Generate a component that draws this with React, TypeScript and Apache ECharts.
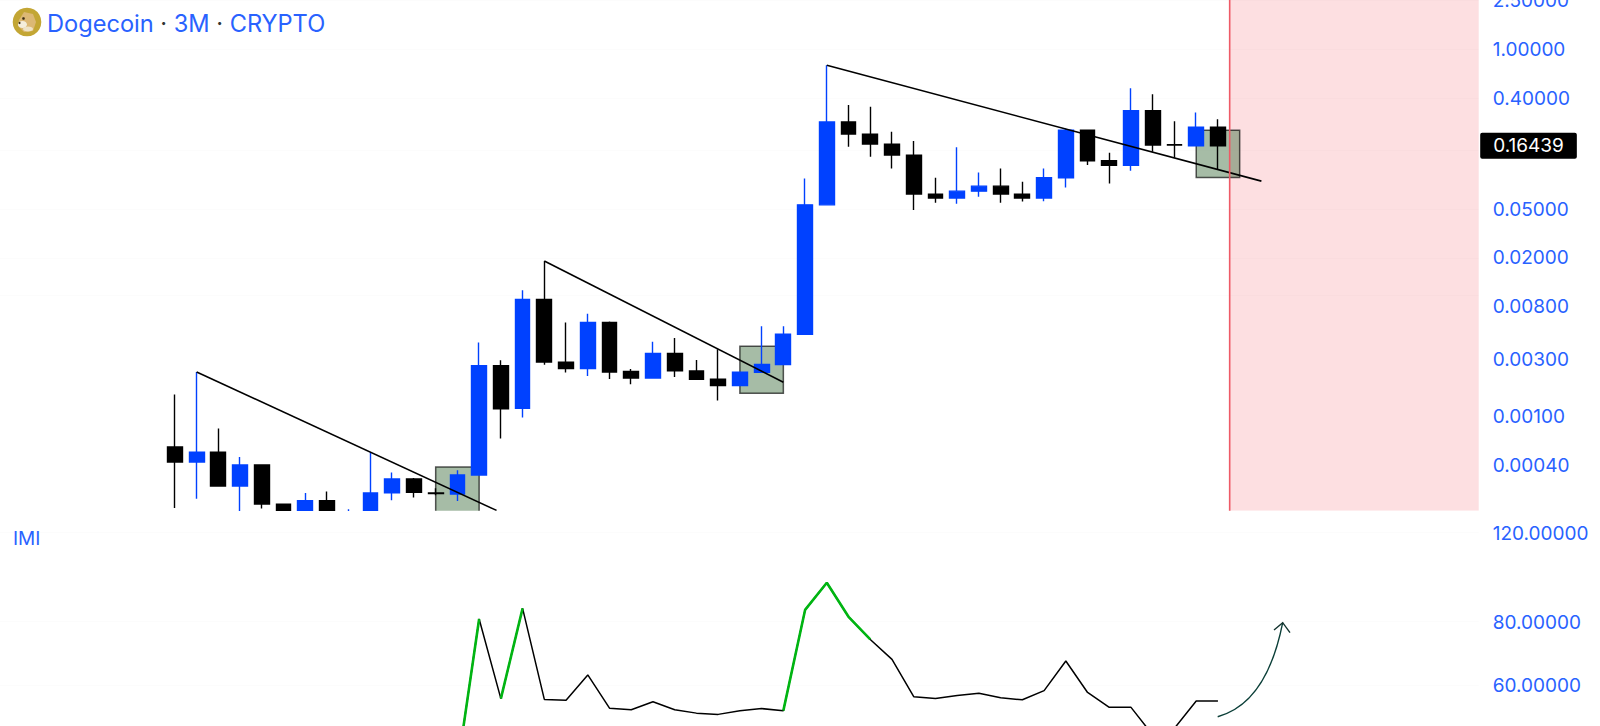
import React, { useEffect, useRef } from "react";
import * as echarts from "echarts";

// Candles: [index, open, close, low, high]
const candles: number[][] = [
  [0, 0.000576, 0.000434, 0.000183, 0.00154],
  [1, 0.000434, 0.000521, 0.000218, 0.00235],
  [2, 0.000521, 0.000277, 0.000277, 0.000814],
  [3, 0.000277, 0.000411, 0.00016, 0.000477],
  [4, 0.000411, 0.000197, 0.000181, 0.000416],
  [5, 0.000197, 0.000151, 0.00014, 0.000197],
  [6, 0.00015, 0.00021, 0.00014, 0.000243],
  [7, 0.00021, 0.00015, 0.00014, 0.00025],
  [8, 0.00012, 0.00016, 0.00011, 0.000179],
  [9, 0.00015, 0.000243, 0.00014, 0.000521],
  [10, 0.000243, 0.000316, 0.000212, 0.000356],
  [11, 0.000316, 0.000246, 0.000223, 0.000322],
  [12, 0.000243, 0.00024, 0.000232, 0.000265],
  [13, 0.000238, 0.00034, 0.000209, 0.000372],
  [14, 0.00034, 0.00264, 0.00034, 0.00409],
  [15, 0.00264, 0.00118, 0.000674, 0.00293],
  [16, 0.00119, 0.00917, 0.001, 0.0109],
  [17, 0.00917, 0.00283, 0.00269, 0.0189],
  [18, 0.00283, 0.00251, 0.00233, 0.00595],
  [19, 0.00251, 0.00595, 0.00218, 0.007],
  [20, 0.00595, 0.00235, 0.00206, 0.00607],
  [21, 0.00237, 0.0021, 0.00187, 0.00249],
  [22, 0.0021, 0.00333, 0.0021, 0.00414],
  [23, 0.00333, 0.0024, 0.00214, 0.00446],
  [24, 0.0024, 0.00205, 0.00205, 0.00295],
  [25, 0.00205, 0.00182, 0.00138, 0.00361],
  [26, 0.00182, 0.00234, 0.00182, 0.00234],
  [27, 0.00234, 0.00271, 0.00234, 0.00555],
  [28, 0.00271, 0.00478, 0.00271, 0.00555],
  [29, 0.00476, 0.0542, 0.0047, 0.089],
  [30, 0.0542, 0.2563, 0.0542, 0.7433],
  [31, 0.2563, 0.2045, 0.1611, 0.3526],
  [32, 0.2045, 0.1695, 0.1335, 0.3415],
  [33, 0.1695, 0.1379, 0.1074, 0.2136],
  [34, 0.1379, 0.0663, 0.0491, 0.1794],
  [35, 0.0663, 0.0615, 0.0563, 0.09],
  [36, 0.0615, 0.0701, 0.0552, 0.1594],
  [37, 0.0701, 0.077, 0.063, 0.0996],
  [38, 0.077, 0.0663, 0.0563, 0.1074],
  [39, 0.0663, 0.0615, 0.0578, 0.0835],
  [40, 0.0615, 0.09, 0.0581, 0.1074],
  [41, 0.09, 0.2205, 0.0752, 0.2276],
  [42, 0.2205, 0.1239, 0.1143, 0.222],
  [43, 0.1239, 0.1136, 0.081, 0.144],
  [44, 0.1136, 0.3168, 0.1027, 0.4826],
  [45, 0.3168, 0.1663, 0.1467, 0.4312],
  [46, 0.1675, 0.1663, 0.1311, 0.2597],
  [47, 0.1642, 0.2332, 0.1642, 0.3074],
  [48, 0.2332, 0.16439, 0.1054, 0.2696],
];

const trendLine1 = [[1, 0.00235], [14.8, 0.000175]];
const trendLine2 = [[17, 0.0189], [28, 0.00194]];
const trendLine3 = [[30, 0.7433], [50, 0.0846]];

// Boxes: [fromIndex, toIndex, topValue, bottomValue]
const signalBoxes = [
  [12, 14, 0.000395, 0.00012],
  [26, 28, 0.00382, 0.00158],
  [47, 49, 0.2193, 0.0907],
];

const forecastStart = 48.54;
const axisLeft = -8.05;
const axisRight = 60;
const mainMin = 0.000174;
const mainMax = 2.534;
const imiMin = 49.8;
const imiMax = 132.3;

const mainTicks = [2.5, 1, 0.4, 0.05, 0.02, 0.008, 0.003, 0.00102, 0.00041];
const mainTickLabels = ["2.50000", "1.00000", "0.40000", "0.05000", "0.02000", "0.00800", "0.00300", "0.00100", "0.00040"];
const mainGridValues = [2.5, 1, 0.4, 0.15, 0.05, 0.02, 0.008, 0.003, 0.00102, 0.00041];
const imiTicks = [120, 80, 60];
const imiTickLabels = ["120.00000", "80.00000", "60.00000"];
const lastPrice = 0.16439;

const imiIndex = [13, 14, 15, 16, 17, 18, 19, 20, 21, 22, 23, 24, 25, 26, 27, 28, 29, 30, 31, 32, 33, 34, 35, 36, 37, 38, 39, 40, 41, 42, 43, 44, 45, 46, 47, 48];
const imiValues = [41.1, 81.0, 56.4, 85.0, 56.2, 56.0, 62.8, 54.0, 53.6, 55.6, 53.6, 52.8, 52.5, 53.4, 53.9, 53.4, 84.4, 95.5, 81.8, 73.8, 67.4, 56.9, 56.4, 57.2, 57.8, 56.6, 56.1, 58.5, 66.9, 58.0, 54.2, 54.2, 47.8, 49.3, 55.8, 55.8];
const imiStrongRuns = [[13, 14], [15, 16], [28, 29, 30, 31, 32]];

const BLUE_TEXT = "#2962ff";
const BLUE_CANDLE = "#0041ff";
const FONT = "Inter, 'Noto Sans', sans-serif";

function regionItem(params: any, api: any) {
  const p0 = api.coord([api.value(0), api.value(2)]);
  const p1 = api.coord([api.value(1), api.value(3)]);
  return {
    type: "rect",
    shape: { x: p0[0], y: p0[1], width: p1[0] - p0[0], height: p1[1] - p0[1] },
    style: api.style(),
  };
}

function axisLabels(ticks: number[], labels: string[], xi: number, yi: number, dy: number) {
  return {
    type: "scatter",
    xAxisIndex: xi,
    yAxisIndex: yi,
    clip: false,
    silent: true,
    z: 6,
    symbolSize: 0,
    itemStyle: { opacity: 1 },
    data: ticks.map((v, i) => ({ value: [axisRight, v], name: labels[i] })),
    label: {
      show: true,
      position: "right",
      distance: 14,
      offset: [0, dy],
      opacity: 1,
      fontFamily: FONT,
      fontSize: 19,
      color: BLUE_TEXT,
      formatter: (p: any) => p.name,
    },
  };
}

function gridLines(values: number[], xi: number, yi: number, z: number) {
  return {
    type: "scatter",
    xAxisIndex: xi,
    yAxisIndex: yi,
    silent: true,
    clip: false,
    symbolSize: 0,
    z,
    data: [],
    markLine: {
      silent: true,
      symbol: "none",
      z,
      label: { show: false },
      lineStyle: { color: "rgba(0,0,0,0.012)", width: 1, type: "solid" },
      data: values.map((v) => ({ yAxis: v })),
    },
  };
}

function guideLine(data: number[][], color: string, width: number, xi = 0, yi = 0, z = 4) {
  return {
    type: "line",
    xAxisIndex: xi,
    yAxisIndex: yi,
    data,
    z,
    silent: true,
    symbol: "none",
    showSymbol: false,
    lineStyle: { color, width },
  };
}

export default function App() {
  const ref = useRef<HTMLDivElement>(null);
  useEffect(() => {
    document.body.style.margin = "0";
    document.body.style.background = "#fff";
    const chart = echarts.init(ref.current!, undefined, { renderer: "svg" });

    const greenMap = new Map<number, number>();
    imiIndex.forEach((x, i) => greenMap.set(x, imiValues[i]));
    const imiLine = imiIndex.map((x, i) => [x, imiValues[i]]);
    const greenSeries = imiStrongRuns.map((run) =>
      guideLine(run.map((x) => [x, greenMap.get(x) as number]), "#00b512", 2.6, 1, 1, 5)
    );

    chart.setOption({
      animation: false,
      backgroundColor: "#ffffff",
      grid: [
        { left: 0, top: 0, width: 1478.7, height: 510.7 },
        { left: 0, top: 511, width: 1478.7, height: 215 },
      ],
      xAxis: [
        { type: "value", gridIndex: 0, min: axisLeft, max: axisRight, show: false },
        { type: "value", gridIndex: 1, min: axisLeft, max: axisRight, show: false },
      ],
      yAxis: [
        { type: "log", gridIndex: 0, min: mainMin, max: mainMax, position: "right", axisLabel: { show: false }, axisLine: { show: false }, axisTick: { show: false }, splitLine: { show: false }, minorSplitLine: { show: false } },
        { type: "log", gridIndex: 1, min: imiMin, max: imiMax, position: "right", axisLabel: { show: false }, axisLine: { show: false }, axisTick: { show: false }, splitLine: { show: false }, minorSplitLine: { show: false } },
      ],
      series: [
        {
          type: "custom",
          xAxisIndex: 0,
          yAxisIndex: 0,
          z: 1,
          clip: true,
          silent: true,
          renderItem: regionItem,
          itemStyle: { color: "#fddfe1" },
          encode: { x: [0, 1], y: [2, 3] },
          data: [[forecastStart, axisRight, mainMax, mainMin]],
        },
        {
          type: "custom",
          xAxisIndex: 0,
          yAxisIndex: 0,
          z: 2,
          clip: true,
          silent: true,
          renderItem: regionItem,
          itemStyle: { color: "rgba(77,121,77,0.5)", borderColor: "rgba(0,0,0,0.65)", borderWidth: 1.5 },
          encode: { x: [0, 1], y: [2, 3] },
          data: signalBoxes,
        },
        {
          type: "candlestick",
          xAxisIndex: 0,
          yAxisIndex: 0,
          z: 3,
          barWidth: 15.3,
          data: candles,
          itemStyle: {
            color: BLUE_CANDLE,
            color0: "#000000",
            borderColor: BLUE_CANDLE,
            borderColor0: "#000000",
            borderWidth: 1.4,
          },
        },
        // lower pane background: candles are not cut by ECharts at the pane edge
        {
          type: "custom",
          xAxisIndex: 1,
          yAxisIndex: 1,
          z: 3.5,
          clip: true,
          silent: true,
          renderItem: regionItem,
          itemStyle: { color: "#ffffff" },
          encode: { x: [0, 1], y: [2, 3] },
          data: [[axisLeft, axisRight, imiMax, imiMin]],
        },
        guideLine(trendLine1, "#000000", 1.6),
        guideLine(trendLine2, "#000000", 1.6),
        guideLine(trendLine3, "#000000", 1.6),
        guideLine([[forecastStart, mainMax], [forecastStart, mainMin]], "#ee5a66", 1.6, 0, 0, 5),
        gridLines(mainGridValues, 0, 0, 1.5),
        gridLines(imiTicks, 1, 1, 3.6),
        axisLabels(mainTicks, mainTickLabels, 0, 0, 0),
        axisLabels(imiTicks, imiTickLabels, 1, 1, 1),
        {
          type: "scatter",
          xAxisIndex: 0,
          yAxisIndex: 0,
          clip: false,
          silent: true,
          z: 7,
          symbolSize: 0,
          itemStyle: { opacity: 1 },
          data: [[axisRight, lastPrice]],
          label: {
            show: true,
            position: "right",
            distance: 1.5,
            opacity: 1,
            fontFamily: FONT,
            fontSize: 19,
            lineHeight: 18,
            color: "#ffffff",
            backgroundColor: "#000000",
            borderRadius: 2,
            padding: [4, 13],
            formatter: (p: any) => p.value[1].toFixed(5),
          },
        },
        guideLine(imiLine, "#000000", 1.5, 1, 1, 4),
        ...greenSeries,
      ],
      graphic: [
        { type: "circle", z: 10, shape: { cx: 27, cy: 22, r: 14.3 }, style: { fill: "#c3a634" } },
        { type: "polygon", z: 10, shape: { points: [[24, 12], [33, 14], [36, 22], [33, 31], [24, 32], [18, 26], [19, 20]] }, style: { fill: "#dcb874" } },
        { type: "ellipse", z: 10, shape: { cx: 22.5, cy: 24.5, rx: 4.5, ry: 3.5 }, style: { fill: "#f5eedc" } },
        { type: "ellipse", z: 10, shape: { cx: 28, cy: 29, rx: 5, ry: 2.5 }, style: { fill: "#efe3c6" } },
        { type: "circle", z: 10, shape: { cx: 23.5, cy: 18.5, r: 1.3 }, style: { fill: "#3a2c14" } },
        { type: "circle", z: 10, shape: { cx: 19.5, cy: 23, r: 1 }, style: { fill: "#3a2c14" } },
        {
          type: "text",
          z: 10,
          x: 47,
          y: 11,
          style: {
            text: "{a|Dogecoin}{b| · }{a|3M}{b| · }{a|CRYPTO}",
            font: `23.6px ${FONT}`,
            rich: {
              a: { fontFamily: FONT, fontSize: 23.6, fill: BLUE_TEXT, color: BLUE_TEXT },
              b: { fontFamily: FONT, fontSize: 23.6, fill: "#333", color: "#333" },
            },
          },
        },
        {
          type: "text",
          z: 10,
          x: 13,
          y: 529,
          style: { text: "IMI", font: `19px ${FONT}`, fill: BLUE_TEXT },
        },
        {
          type: "bezierCurve",
          z: 10,
          shape: { x1: 1217.7, y1: 716.7, x2: 1282.7, y2: 622.7, cpx1: 1266.7, cpy1: 703.3 },
          style: { stroke: "#0b3f38", lineWidth: 1.4, fill: "none" },
        },
        {
          type: "polyline",
          z: 10,
          shape: { points: [[1274, 630], [1282.7, 622.7], [1290, 632.7]] },
          style: { stroke: "#14342f", lineWidth: 1.4, fill: "none" },
        },
      ],
    });
    return () => chart.dispose();
  }, []);
  return <div ref={ref} style={{ width: 1600, height: 726 }} />;
}
